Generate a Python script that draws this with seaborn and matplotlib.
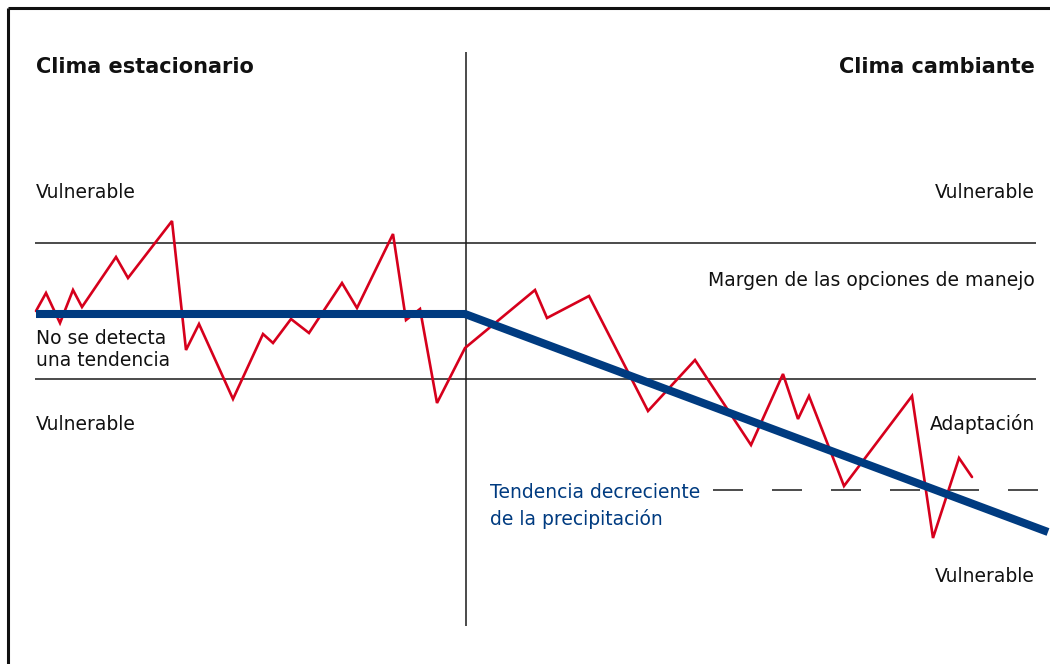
import matplotlib
matplotlib.use("Agg")
import pandas as pd
import matplotlib.pyplot as plt
import seaborn as sns

sns.set_theme(style="white")
plt.rcParams['font.family'] = ['DejaVu Sans']

# ===============================
# Data (canvas units, y grows downwards)
# ===============================
# observed precipitation (red zigzag)
obs_x = [36, 46, 60, 73, 82, 116, 128, 172, 186, 199, 233, 263, 273, 291, 309,
         342, 357, 393, 406, 420, 437, 465, 535, 547, 589, 648, 695, 751, 783,
         798, 809, 844, 912, 933, 959, 972]
obs_y = [311, 293, 323, 290, 307, 257, 278, 221, 350, 324, 399, 334, 343, 319,
         333, 283, 308, 234, 320, 309, 403, 348, 290, 318, 296, 411, 360, 445,
         374, 419, 396, 486, 396, 538, 458, 477]

# trend (blue): flat under stationary climate, falling under changing climate
trend_x = [36, 465, 1048]
trend_y = [314, 314, 532]

# thresholds of the coping range
upper_limit = 243
lower_limit = 379
adapt_limit = 490
split_x = 466

red = '#d6001c'
blue = '#003b80'

obs = pd.DataFrame({'x': obs_x, 'y': obs_y})
trend = pd.DataFrame({'x': trend_x, 'y': trend_y})

fig = plt.figure(figsize=(10.5, 6.64), dpi=100)
ax = fig.add_axes([0, 0, 1, 1])

# frame (open at right and bottom)
ax.plot([8, 1050], [8, 8], color='#111111', lw=2.2, solid_capstyle='butt')
ax.plot([8, 8], [8, 664], color='#111111', lw=2.2, solid_capstyle='butt')

# reference lines
ax.hlines([upper_limit, lower_limit], 35, 1036, color='#1a1a1a', lw=1.1)
ax.vlines(split_x, 52, 626, color='#1a1a1a', lw=1.1)
ax.hlines(adapt_limit, 713, 1038, color='#1a1a1a', lw=1.1,
          linestyles=(0, (30 / 1.1 * 0.72, 29 / 1.1 * 0.72)))

sns.lineplot(data=obs, x='x', y='y', ax=ax, color=red, lw=1.9)
sns.lineplot(data=trend, x='x', y='y', ax=ax, color=blue, lw=5.8, sort=False)
for ln in ax.lines[-2:]:
    ln.set_solid_joinstyle('miter')
ax.lines[-1].set_solid_capstyle('butt')
ax.set_xlim(0, 1050)
ax.set_ylim(664, 0)
ax.axis('off')

# ===============================
# Labels
# ===============================
title_kw = dict(fontsize=15, fontweight='bold', color='#111111', va='center')
ax.text(36, 67, 'Clima estacionario', ha='left', **title_kw)
ax.text(1035, 67, 'Clima cambiante', ha='right', **title_kw)

lab_kw = dict(fontsize=13.5, color='#111111', va='center')
ax.text(36, 193, 'Vulnerable', ha='left', **lab_kw)
ax.text(1035, 193, 'Vulnerable', ha='right', **lab_kw)
ax.text(1035, 280, 'Margen de las opciones de manejo', ha='right', **lab_kw)
ax.text(36, 349, 'No se detecta\nuna tendencia', ha='left', linespacing=1.2, **lab_kw)
ax.text(36, 424, 'Vulnerable', ha='left', **lab_kw)
ax.text(1035, 424, 'Adaptación', ha='right', **lab_kw)
ax.text(1035, 577, 'Vulnerable', ha='right', **lab_kw)
ax.text(490, 506, 'Tendencia decreciente\nde la precipitación', ha='left', va='center',
        fontsize=13.5, color=blue, linespacing=1.45)

plt.savefig('out.png', dpi=100)
